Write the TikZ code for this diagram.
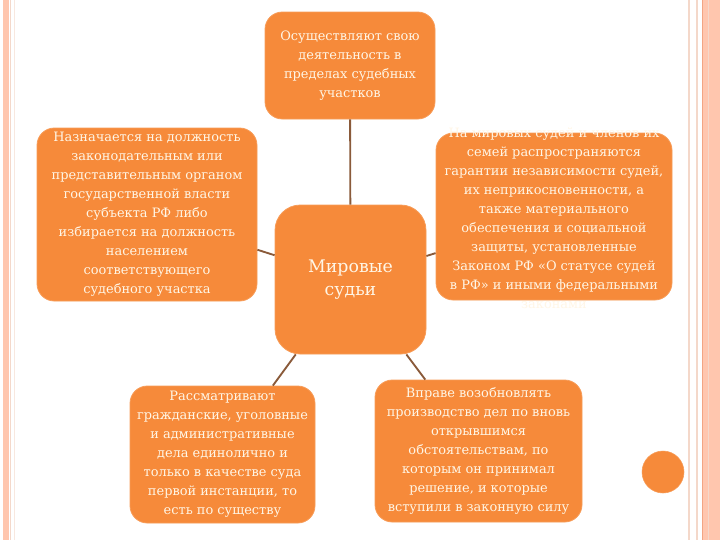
\documentclass[tikz,border=0pt]{standalone}
\usepackage{fontspec}
\setmainfont{DejaVu Serif}
\definecolor{boxor}{HTML}{F68A3A}
\definecolor{txtc}{HTML}{FFF6E6}
\definecolor{linkc}{HTML}{8A5A3A}
\definecolor{band}{HTML}{FFC6AE}
\definecolor{bandline}{HTML}{F4D8CA}
\definecolor{bandedge}{HTML}{F2A584}
\begin{document}
\begin{tikzpicture}[x=0.75pt,y=-0.75pt,
  box/.style={fill=boxor,draw=boxor!85!white,line width=0.6pt,rounded corners=13pt,inner sep=0pt,
    text=txtc,align=center,font=\fontsize{9.7}{14.25}\selectfont},
  boxtext/.style={text=txtc,align=center,inner sep=0pt,font=\fontsize{9.7}{14.25}\selectfont},
  link/.style={draw=linkc,line width=1.4pt}]
\useasboundingbox (0,0) rectangle (720,540);
\fill[white] (0,0) rectangle (720,540);
% side decorations
\fill[band] (3,0) rectangle (9,540);
\draw[bandline,line width=0.6pt] (10.5,0) -- (10.5,540);
\draw[bandline!60!white,line width=0.6pt] (14,0) -- (14,540);
\draw[bandline,line width=0.8pt] (689,0) -- (689,540);
\draw[bandline,line width=0.8pt] (697,0) -- (697,540);
\fill[band] (702,0) rectangle (720,540);
\draw[bandedge,line width=0.8pt] (702.5,0) -- (702.5,540);
\draw[bandline,line width=0.5pt] (708,0) -- (708,540);
% boxes
\node[box,minimum width=127.5pt,minimum height=80.25pt] (t) at (350,65.5)
  {Осуществляют свою\\деятельность в\\пределах судебных\\участков};
\node[box,minimum width=165pt,minimum height=129.75pt] (l) at (147,214.5)
  {Назначается на должность\\законодательным или\\представительным органом\\государственной власти\\субъекта РФ либо\\избирается на должность\\населением\\соответствующего\\судебного участка};
\node[box,minimum width=177pt,minimum height=125.25pt] (r) at (554,216.5) {};
\node[boxtext] (rt) at ([yshift=-1.5pt]r.center)
  {На мировых судей и членов их\\семей распространяются\\гарантии независимости судей,\\их неприкосновенности, а\\также материального\\обеспечения и социальной\\защиты, установленные\\Законом РФ «О статусе судей\\в РФ» и иными федеральными\\законами};
\node[box,rounded corners=19pt,minimum width=113.25pt,minimum height=111.75pt,
  font=\fontsize{13}{17.25}\selectfont] (c) at (350.5,279.5) {\raisebox{-3pt}{\begin{tabular}{@{}c@{}}Мировые\\[0.5pt]судьи\end{tabular}}};
\node[box,minimum width=138.75pt,minimum height=102.75pt] (bl) at (222.5,454.5)
  {Рассматривают\\гражданские, уголовные\\и административные\\дела единолично и\\только в качестве суда\\первой инстанции, то\\есть по существу};
\node[box,minimum width=155.25pt,minimum height=106.5pt] (br) at (478.5,451)
  {Вправе возобновлять\\производство дел по вновь\\открывшимся\\обстоятельствам, по\\которым он принимал\\решение, и которые\\вступили в законную силу};
\node[circle,fill=boxor,draw=boxor!85!white,minimum size=31.5pt,inner sep=0pt] (dot) at (663,472) {};
% connectors
\draw[link] (c) -- (t);
\draw[link] (c) -- (l);
\draw[link] (c) -- (r);
\draw[link] (c) -- (bl);
\draw[link] (c) -- (br);
\end{tikzpicture}
\end{document}
